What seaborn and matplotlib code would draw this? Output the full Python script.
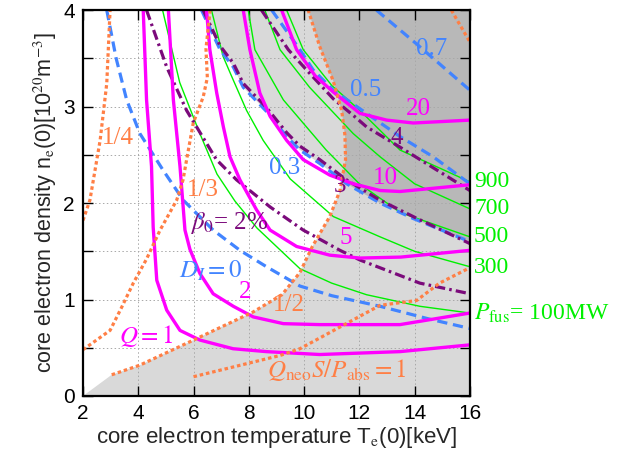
import numpy as np
import pandas as pd
import matplotlib
matplotlib.use("Agg")
import matplotlib.pyplot as plt
from matplotlib.patches import Polygon
import seaborn as sns

# ---------------- data ----------------
# Fusion gain Q contours (magenta)
q1_T = [4.18, 4.30, 4.48, 4.54, 4.67, 5.03, 5.51, 6.23, 7.43, 8.64, 10.57, 13.47, 16.0]
q1_n = [4.00, 3.07, 2.38, 1.75, 1.20, 0.89, 0.68, 0.58, 0.49, 0.46, 0.43, 0.46, 0.53]
q2_T = [5.09, 5.27, 5.51, 5.69, 5.87, 6.23, 6.71, 7.44, 8.16, 9.25, 10.57, 13.47, 16.0]
q2_n = [4.00, 3.07, 2.38, 1.72, 1.52, 1.27, 1.06, 0.93, 0.82, 0.75, 0.74, 0.74, 0.86]
q5_T = [6.47, 6.59, 6.84, 7.08, 7.32, 7.68, 8.28, 8.77, 9.73, 10.93, 12.02, 13.50, 16.0]
q5_n = [4.00, 3.59, 3.14, 2.79, 2.48, 2.24, 1.93, 1.72, 1.55, 1.46, 1.43, 1.44, 1.51]
q10_T = [7.80, 8.04, 8.40, 8.77, 9.37, 9.97, 10.93, 11.78, 12.75, 13.47, 16.0]
q10_n = [4.00, 3.59, 3.14, 2.90, 2.65, 2.45, 2.29, 2.20, 2.13, 2.12, 2.19]
q20_T = [9.19, 9.73, 10.40, 11.06, 12.02, 12.99, 13.95, 16.0]
q20_n = [4.00, 3.59, 3.32, 3.15, 2.93, 2.86, 2.83, 2.86]

# Fusion power contours (green) [MW]
p100_T = [4.88, 5.50, 6.23, 6.85, 7.50, 8.30, 9.85, 11.00, 12.26, 14.19, 16.0]
p100_n = [4.00, 3.25, 2.72, 2.30, 2.02, 1.74, 1.32, 1.17, 1.05, 0.93, 0.86]
p300_T = [6.65, 7.07, 7.40, 7.92, 8.52, 9.50, 11.06, 12.75, 14.00, 16.0]
p300_n = [4.00, 3.52, 3.30, 2.96, 2.65, 2.25, 1.86, 1.65, 1.50, 1.34]
p500_T = [7.98, 8.22, 9.25, 10.80, 12.00, 13.50, 16.0]
p500_n = [4.00, 3.59, 3.07, 2.55, 2.20, 1.90, 1.65]
p700_T = [8.58, 9.13, 10.20, 11.78, 12.75, 14.00, 16.0]
p700_n = [4.00, 3.59, 3.20, 2.72, 2.48, 2.20, 1.94]
p900_T = [9.37, 9.97, 11.00, 12.02, 13.47, 16.0]
p900_n = [4.00, 3.59, 3.22, 2.96, 2.55, 2.22]

# D_I contours (blue dashed)
d0_T = [2.86, 3.20, 3.58, 4.06, 4.90, 5.63, 6.71, 7.68, 8.64, 9.85, 11.00, 12.75, 14.50, 16.0]
d0_n = [4.00, 3.50, 3.07, 2.72, 2.34, 2.03, 1.72, 1.51, 1.34, 1.14, 1.04, 0.93, 0.80, 0.70]
d03_T = [6.29, 6.96, 7.44, 7.80, 8.64, 9.37, 9.85, 10.57, 11.54, 12.75, 13.95, 16.0]
d03_n = [4.00, 3.59, 3.41, 3.20, 2.95, 2.69, 2.55, 2.41, 2.20, 2.00, 1.84, 1.60]
d05_T = [8.83, 9.85, 10.33, 11.06, 12.26, 13.47, 14.67, 16.0]
d05_n = [4.00, 3.59, 3.38, 3.17, 2.93, 2.69, 2.48, 2.20]
d07_T = [12.62, 14.07, 16.0]
d07_n = [4.00, 3.65, 3.17]

# beta contours (purple dash-dot)
b2_T = [4.30, 5.03, 5.75, 6.83, 7.56, 8.77, 9.97, 11.30, 12.02, 14.19, 16.0]
b2_n = [4.00, 3.41, 2.96, 2.45, 2.24, 1.96, 1.72, 1.51, 1.41, 1.17, 1.06]
b3_T = [6.35, 6.96, 7.44, 7.80, 8.64, 9.37, 9.85, 10.57, 11.54, 12.75, 13.95, 16.0]
b3_n = [4.00, 3.63, 3.45, 3.24, 2.99, 2.73, 2.59, 2.45, 2.24, 2.03, 1.86, 1.58]
b4_T = [8.46, 9.43, 10.09, 11.06, 11.90, 12.26, 13.47, 16.0]
b4_n = [4.00, 3.59, 3.38, 3.08, 2.88, 2.79, 2.58, 2.13]

# Q_neo S / P_abs contours (orange dotted)
r14_T = [2.00, 2.25, 2.62, 2.86, 2.98]
r14_n = [1.82, 2.03, 2.65, 3.24, 4.00]
r13_T = [2.00, 2.98, 3.40, 3.82, 4.30, 4.79, 5.39, 5.62, 5.75, 5.99, 6.35, 6.50, 6.45, 6.60]
r13_n = [0.48, 0.68, 0.92, 1.17, 1.42, 1.72, 2.03, 2.24, 2.45, 2.83, 3.10, 3.30, 3.60, 4.00]
r12_T = [3.04, 4.06, 6.00, 8.15, 9.20, 9.85, 10.30, 10.93, 11.30, 11.50, 11.48, 11.36, 11.05, 10.57, 10.15]
r12_n = [0.22, 0.32, 0.58, 0.87, 1.05, 1.28, 1.55, 1.86, 2.13, 2.45, 2.70, 2.96, 3.27, 3.62, 4.00]
r1_T = [6.00, 9.13, 9.85, 12.75, 14.07, 14.90, 16.0]
r1_n = [0.20, 0.42, 0.49, 0.94, 0.99, 1.17, 1.33]
rtop_T = [15.33, 16.0]
rtop_n = [4.00, 3.67]

x_ticks = [2, 4, 6, 8, 10, 12, 14, 16]
y_ticks = [0, 0.5, 1, 1.5, 2, 2.5, 3, 3.5, 4]
y_ticklabels = ["0", "", "1", "", "2", "", "3", "", "4"]

# ---------------- styling ----------------
sns.set_theme(style="ticks")
plt.rcParams['font.family'] = ['Liberation Sans', 'DejaVu Sans']
plt.rcParams['mathtext.fontset'] = 'stix'

MAG = '#ff00ff'
GRN = '#00f000'
BLU = '#4284ff'
PUR = '#7b0a7b'
ORG = '#ff7f45'
LIGHT = '#d9d9d9'
DARK = '#b8b8b8'

fig = plt.figure(figsize=(6.24, 4.61), dpi=100)
ax = fig.add_axes([0.133, 0.141, 0.620, 0.837])

# shaded regions
half_poly = Polygon(list(zip([2.0] + r12_T + [16.0, 16.0], [0.0] + r12_n + [4.0, 0.0])),
                    closed=True, facecolor=LIGHT, edgecolor='none', zorder=0.1)
ax.add_patch(half_poly)
d_poly = Polygon(list(zip(d03_T + [16.0], d03_n + [4.0])),
                 closed=True, facecolor=LIGHT, edgecolor='none', zorder=0.1)
ax.add_patch(d_poly)
dark_poly = Polygon(list(zip(d03_T + [16.0], d03_n + [4.0])),
                    closed=True, facecolor=DARK, edgecolor='none', zorder=0.2)
ax.add_patch(dark_poly)
dark_poly.set_clip_path(half_poly)


def draw(T, n, color, lw, ls, z):
    df = pd.DataFrame({"T": T, "n": n})
    sns.lineplot(data=df, x="T", y="n", sort=False, estimator=None, color=color,
                 linewidth=lw, linestyle=ls, ax=ax, zorder=z, legend=False)


for T, n in [(p100_T, p100_n), (p300_T, p300_n), (p500_T, p500_n), (p700_T, p700_n), (p900_T, p900_n)]:
    draw(T, n, GRN, 1.0, '-', 2)
for T, n in [(d0_T, d0_n), (d03_T, d03_n), (d05_T, d05_n), (d07_T, d07_n)]:
    draw(T, n, BLU, 2.3, (0, (3.2, 1.8)), 3)
for T, n in [(b2_T, b2_n), (b3_T, b3_n), (b4_T, b4_n)]:
    draw(T, n, PUR, 2.3, (0, (3.2, 1.3, 0.8, 1.3)), 4)
for T, n in [(q1_T, q1_n), (q2_T, q2_n), (q5_T, q5_n), (q10_T, q10_n), (q20_T, q20_n)]:
    draw(T, n, MAG, 2.4, '-', 5)
for T, n in [(r14_T, r14_n), (r13_T, r13_n), (r12_T, r12_n), (r1_T, r1_n), (rtop_T, rtop_n)]:
    draw(T, n, ORG, 2.3, (0, (1.1, 0.9)), 6)

ax.set_xlim(2, 16)
ax.set_ylim(0, 4)
ax.set_xticks(x_ticks)
ax.set_xticklabels([str(v) for v in x_ticks])
ax.set_yticks(y_ticks)
ax.set_yticklabels(y_ticklabels)
ax.tick_params(direction='in', top=True, right=True, length=7, width=1.0,
               labelsize=15, colors='black', pad=6)
ax.set_axisbelow(True)
for v in x_ticks[1:-1]:
    ax.axvline(v, color='#a8a8a8', lw=0.7, ls=(0, (1.5, 2.5)), zorder=0.5)
for v in y_ticks[1:-1]:
    ax.axhline(v, color='#a8a8a8', lw=0.7, ls=(0, (1.5, 2.5)), zorder=0.5)
for s in ax.spines.values():
    s.set_linewidth(1.6)
    s.set_color('black')
    s.set_zorder(10)

ax.set_xlabel(r'core electron temperature T$_{\mathrm{e}}$(0)[keV]', fontsize=16,
              family=['Liberation Sans', 'DejaVu Sans'], labelpad=1)
ax.set_ylabel(r'core electron density n$_{\mathrm{e}}$(0)[10$^{20}$m$^{-3}$]', fontsize=15.5,
              family=['Liberation Sans', 'DejaVu Sans'], labelpad=3)

serif = ['Liberation Serif', 'DejaVu Serif']
fs = 18


def lab(x, y, s, c, size=fs, ha='center'):
    ax.text(x, y, s, color=c, fontsize=size, family=serif, ha=ha, va='center', zorder=8,
            clip_on=False)


# blue labels
lab(14.63, 3.60, '0.7', BLU)
lab(12.24, 3.17, '0.5', BLU)
lab(9.31, 2.36, '0.3', BLU)
lab(6.63, 1.30, r'$D_{I} = 0$', BLU)
# purple labels
lab(7.3, 1.79, r'$\beta_0$= 2%', PUR)
lab(11.3, 2.18, '3', PUR)
lab(13.36, 2.67, '4', PUR)
# magenta labels
lab(14.15, 2.98, '20', MAG)
lab(12.93, 2.26, '10', MAG)
lab(11.5, 1.64, '5', MAG)
lab(7.86, 1.08, '2', MAG)
lab(4.3, 0.62, r'$Q = 1$', MAG)
# orange labels
lab(3.25, 2.67, '1/4', ORG)
lab(6.35, 2.14, '1/3', ORG)
lab(9.45, 0.94, '1/2', ORG)
lab(11.2, 0.27, r'$Q_{\mathrm{neo}}S/P_{\mathrm{abs}} = 1$', ORG)
# green labels (outside, right)
gx = 16.15
lab(gx, 2.22, '900', GRN, 17, 'left')
lab(gx, 1.94, '700', GRN, 17, 'left')
lab(gx, 1.65, '500', GRN, 17, 'left')
lab(gx, 1.33, '300', GRN, 17, 'left')
lab(gx, 0.86, r'$P_{\mathrm{fus}}$= 100MW', GRN, 17, 'left')

fig.savefig('out.png', dpi=100)
